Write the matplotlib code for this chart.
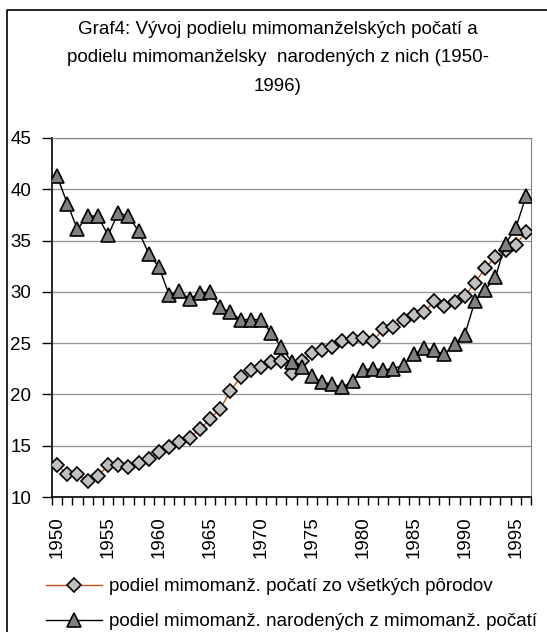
import matplotlib
matplotlib.use("Agg")
import matplotlib.pyplot as plt
from matplotlib.lines import Line2D

plt.rcParams["font.family"] = ["Liberation Sans", "DejaVu Sans"]

# ── data ──────────────────────────────────────────────────────────────────────
years = list(range(1950, 1997))

podiel_pocati = [
    13.1, 12.2, 12.2, 11.6, 12.0, 13.1, 13.1, 12.9, 13.3, 13.7,
    14.4, 14.9, 15.4, 15.8, 16.6, 17.6, 18.6, 20.3, 21.7, 22.4,
    22.7, 23.2, 23.3, 22.1, 23.3, 24.0, 24.3, 24.6, 25.2, 25.4,
    25.5, 25.2, 26.4, 26.6, 27.3, 27.7, 28.0, 29.1, 28.6, 29.0,
    29.6, 30.9, 32.3, 33.4, 34.1, 34.6, 35.8,
]

podiel_narodenych = [
    41.3, 38.6, 36.1, 37.4, 37.4, 35.5, 37.7, 37.4, 35.9, 33.7,
    32.4, 29.7, 30.1, 29.3, 29.9, 30.0, 28.5, 28.0, 27.3, 27.3,
    27.3, 26.0, 24.6, 23.2, 22.7, 21.8, 21.2, 21.0, 20.7, 21.3,
    22.4, 22.5, 22.4, 22.5, 22.9, 23.9, 24.5, 24.3, 23.9, 24.9,
    25.8, 29.1, 30.2, 31.4, 34.7, 36.2, 39.3,
]

label_pocati = "podiel mimomanž. počatí zo všetkých pôrodov"
label_narodenych = "podiel mimomanž. narodených z mimomanž. počatí"
title = ("Graf4: Vývoj podielu mimomanželských počatí a\n"
         "podielu mimomanželsky  narodených z nich (1950-\n"
         "1996)")

C_LINE1 = "#C0501A"
FS = 13.5

# ── figure ────────────────────────────────────────────────────────────────────
W, H = 547, 632
fig = plt.figure(figsize=(W / 100, H / 100), dpi=100)
fig.patch.set_facecolor("white")

ax = fig.add_axes([52 / W, 1 - 497 / H, (531 - 52) / W, (497 - 138) / H])

x = list(range(len(years)))
ax.plot(x, podiel_pocati, color=C_LINE1, lw=1.0, marker="D", ms=7,
        mfc="#C0C0C0", mec="black", mew=1.2, zorder=3)
ax.plot(x, podiel_narodenych, color="black", lw=1.0, marker="^", ms=9.5,
        mfc="#808080", mec="black", mew=1.2, zorder=4)

ax.set_xlim(-0.5, len(years) - 0.5)
ax.set_ylim(10, 45)
ax.set_yticks(range(10, 46, 5))
ax.yaxis.grid(True, color="#999999", lw=1.0)
ax.set_axisbelow(True)

# category boundaries as tick marks, labels every 5 years
ax.set_xticks([i - 0.5 for i in range(len(years) + 1)])
ax.set_xticklabels([])
ax.set_xticks([i for i in x if years[i] % 5 == 0], minor=True)
ax.set_xticklabels([str(years[i]) for i in x if years[i] % 5 == 0],
                   minor=True, rotation=90, fontsize=FS)
ax.tick_params(axis="x", which="major", direction="out", length=6, width=1)
ax.tick_params(axis="x", which="minor", length=0, pad=14)
ax.tick_params(axis="y", direction="out", length=7, width=1, pad=8,
               labelsize=FS)

for s in ("top", "right"):
    ax.spines[s].set_color("#808080")
for s in ("left", "bottom"):
    ax.spines[s].set_color("black")
    ax.spines[s].set_linewidth(1.2)

# ── title ─────────────────────────────────────────────────────────────────────
fig.text(278 / W, 1 - 58 / H, title, ha="center", va="center",
         fontsize=FS, linespacing=1.9)

# ── legend ────────────────────────────────────────────────────────────────────
handles = [
    Line2D([], [], color=C_LINE1, lw=1.0, marker="D", ms=7,
           mfc="#C0C0C0", mec="black", mew=1.2),
    Line2D([], [], color="black", lw=1.0, marker="^", ms=9.5,
           mfc="#808080", mec="black", mew=1.2),
]
fig.legend(handles, [label_pocati, label_narodenych], loc="upper left",
           bbox_to_anchor=(46 / W, 1 - 578 / H), frameon=False,
           fontsize=FS, handlelength=3.0, handletextpad=0.35,
           labelspacing=0.95, borderaxespad=0, borderpad=0)

# chart frame (cropped at right and bottom)
fig.add_artist(Line2D([7 / W, 7 / W, 1], [0, 1 - 10 / H, 1 - 10 / H],
                      color="black", lw=1.2, transform=fig.transFigure))

fig.savefig("out.png", dpi=100)
